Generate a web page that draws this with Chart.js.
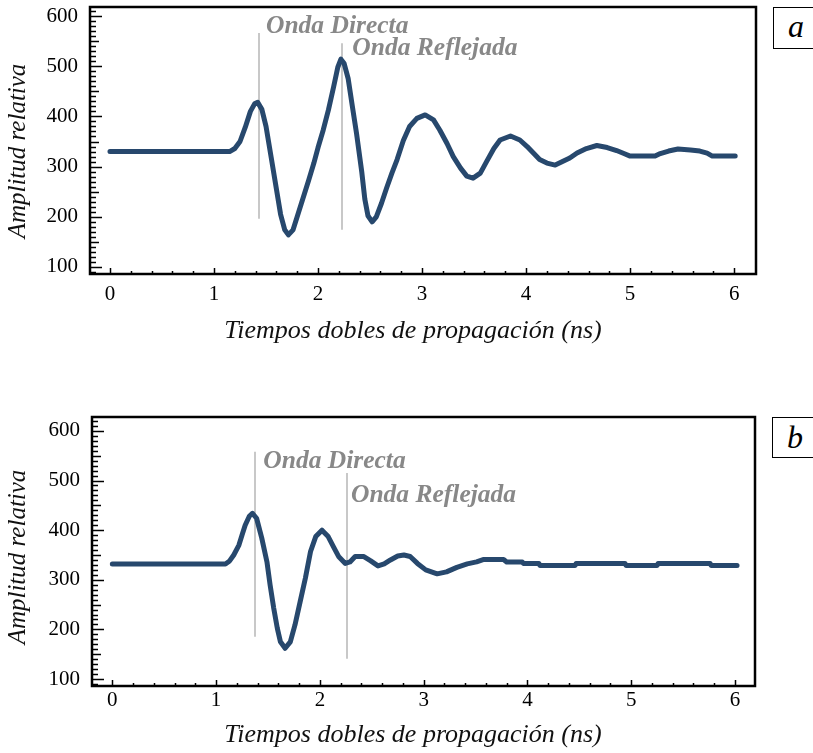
<!DOCTYPE html>
<html>
<head>
<meta charset="utf-8">
<script src="https://cdn.jsdelivr.net/npm/chart.js@4.4.1/dist/chart.umd.min.js"></script>
<style>
  body { margin: 0; background: #fff; width: 813px; height: 753px; overflow: hidden; position: relative; }
  .panel { position: absolute; left: 0; width: 813px; }
  .tag { position: absolute; width: 60px; border: 1px solid #000; box-sizing: border-box; background: #fff;
         font: italic 32px 'Liberation Serif', 'Times New Roman', serif; padding-left: 14px; }
</style>
</head>
<body>
<div class="panel" style="top:0;height:376px"><canvas id="chartA"></canvas></div>
<div class="panel" style="top:376px;height:377px"><canvas id="chartB"></canvas></div>
<div class="tag" style="left:773px;top:7px;height:42px;line-height:36px">a</div>
<div class="tag" style="left:772px;top:417px;height:41px;line-height:38px">b</div>
<script>
// traza a (ns, amplitud)
const timesA = [0, 1.15, 1.20, 1.25, 1.30, 1.35, 1.39, 1.42, 1.46, 1.50, 1.55, 1.60, 1.64, 1.68, 1.715,
  1.76, 1.81, 1.86, 1.91, 1.96, 2.00, 2.05, 2.10, 2.15, 2.19, 2.22, 2.25, 2.29, 2.33, 2.37, 2.42, 2.45,
  2.48, 2.52, 2.56, 2.61, 2.66, 2.71, 2.76, 2.82, 2.88, 2.95, 3.03, 3.11, 3.17, 3.24, 3.30, 3.37, 3.43,
  3.49, 3.56, 3.62, 3.69, 3.75, 3.85, 3.94, 4.01, 4.07, 4.13, 4.20, 4.28, 4.34, 4.42, 4.49, 4.58, 4.68,
  4.78, 4.87, 4.94, 5.00, 5.24, 5.29, 5.37, 5.46, 5.58, 5.67, 5.74, 5.79, 6.01];
const ampA = [330, 330, 336, 350, 378, 410, 425, 428, 414, 380, 318, 255, 205, 174, 164,
  174, 207, 240, 273, 307, 338, 373, 413, 459, 498, 514, 506, 475, 420, 366, 290, 235,
  202, 190, 200, 227, 258, 287, 314, 352, 380, 396, 403, 393, 373, 346, 320, 297, 281,
  277, 287, 310, 336, 353, 361, 353, 340, 327, 314, 307, 303, 309, 317, 327, 336, 342,
  338, 332, 326, 321, 321, 326, 331, 335, 333, 331, 327, 321, 321];

// traza b
const timesB = [0, 1.09, 1.13, 1.17, 1.22, 1.25, 1.28, 1.32, 1.35, 1.39, 1.44, 1.49, 1.52, 1.555, 1.59,
  1.62, 1.665, 1.715, 1.76, 1.81, 1.86, 1.91, 1.96, 2.02, 2.08, 2.13, 2.18, 2.245, 2.29, 2.34, 2.42,
  2.49, 2.56, 2.62, 2.68, 2.75, 2.81, 2.87, 2.94, 3.02, 3.13, 3.22, 3.32, 3.42, 3.51, 3.58, 3.77, 3.80,
  3.95, 3.96, 4.11, 4.12, 4.46, 4.47, 4.94, 4.95, 5.25, 5.26, 5.76, 5.77, 6.02];
const ampB = [332, 332, 338, 350, 370, 390, 410, 428, 434, 424, 384, 336, 290, 243, 202,
  175, 162, 175, 209, 256, 303, 357, 387, 400, 387, 367, 347, 333, 336, 347, 347,
  338, 328, 332, 340, 348, 350, 347, 333, 320, 312, 316, 325, 332, 336, 341, 341, 336,
  336, 333, 333, 329, 329, 333, 333, 329, 329, 333, 333, 329, 329];

const xTickValues = [0, 1, 2, 3, 4, 5, 6];
const yTickValues = [100, 200, 300, 400, 500, 600];
const waveLabels = ['Onda Directa', 'Onda Reflejada'];

// lineas verticales y textos (en unidades de los ejes)
const markerTimesA = [1.43, 2.23];
const markerTopA = [566, 546];
const markerBottomA = [196, 174];
const labelTimesA = [1.50, 2.33];
const labelAmpA = [566, 522];

const markerTimesB = [1.37, 2.26];
const markerTopB = [558, 515];
const markerBottomB = [185, 141];
const labelTimesB = [1.455, 2.30];
const labelAmpB = [525, 457];

const xTitle = 'Tiempos dobles de propagación (ns)';
const yTitle = 'Amplitud relativa';

const LINE = '#27486d';
const SERIF = "'Liberation Serif', 'Times New Roman', serif";

const decoPlugin = {
  id: 'deco',
  beforeDatasetsDraw(chart, args, opts) {
    const ctx = chart.ctx, x = chart.scales.x, y = chart.scales.y;
    ctx.save();
    ctx.strokeStyle = '#c8c8c8';
    ctx.lineWidth = 2;
    opts.markerTimes.forEach((t, i) => {
      const px = Math.round(x.getPixelForValue(t));
      ctx.beginPath();
      ctx.moveTo(px, y.getPixelForValue(opts.markerTop[i]));
      ctx.lineTo(px, y.getPixelForValue(opts.markerBottom[i]));
      ctx.stroke();
    });
    ctx.restore();
  },
  afterDraw(chart, args, opts) {
    const ctx = chart.ctx, a = chart.chartArea, x = chart.scales.x, y = chart.scales.y;
    ctx.save();
    // marcas hacia dentro
    ctx.strokeStyle = '#000';
    ctx.lineWidth = 1.5;
    for (let v = 90; v <= 620; v += 10) {
      if (v < y.min || v > y.max) continue;
      const py = Math.round(y.getPixelForValue(v)) + 0.5;
      const len = v % 100 === 0 ? 12 : (v % 50 === 0 ? 9 : 6);
      ctx.beginPath(); ctx.moveTo(a.left, py); ctx.lineTo(a.left + len, py); ctx.stroke();
    }
    for (let i = 0; i <= 30; i++) {
      const v = i * 0.2;
      const px = Math.round(x.getPixelForValue(v)) + 0.5;
      const len = i % 5 === 0 ? 6 : 3;
      ctx.beginPath(); ctx.moveTo(px, a.bottom); ctx.lineTo(px, a.bottom - len); ctx.stroke();
    }
    // marco
    ctx.lineWidth = 2.5;
    ctx.strokeRect(a.left, a.top, a.right - a.left, a.bottom - a.top);

    // textos de onda
    ctx.fillStyle = '#888888';
    ctx.font = 'italic bold 25.5px ' + SERIF;
    ctx.textAlign = 'left';
    ctx.textBaseline = 'alphabetic';
    waveLabels.forEach((txt, i) => {
      ctx.fillText(txt, x.getPixelForValue(opts.labelTimes[i]), y.getPixelForValue(opts.labelAmps[i]));
    });

    // titulos de ejes
    ctx.fillStyle = '#111';
    ctx.textAlign = 'center';
    ctx.textBaseline = 'middle';
    ctx.font = 'italic 26px ' + SERIF;
    ctx.fillText(xTitle, opts.xTitleX, opts.xTitleY);
    ctx.translate(opts.yTitleX, opts.yTitleY);
    ctx.rotate(-Math.PI / 2);
    ctx.font = 'italic 25px ' + SERIF;
    ctx.fillText(yTitle, 0, 0);
    ctx.restore();
  }
};

function makeChart(id, times, amps, cfg) {
  return new Chart(document.getElementById(id), {
    type: 'line',
    data: {
      datasets: [{
        data: times.map((t, i) => ({ x: t, y: amps[i] })),
        borderColor: LINE,
        borderWidth: 5,
        borderCapStyle: 'round',
        borderJoinStyle: 'round',
        pointRadius: 0,
        tension: 0,
        fill: false
      }]
    },
    options: {
      responsive: true,
      maintainAspectRatio: false,
      animation: false,
      layout: { padding: cfg.padding },
      plugins: {
        legend: { display: false },
        tooltip: { enabled: false },
        deco: cfg.deco
      },
      scales: {
        x: {
          type: 'linear', min: cfg.xMin, max: cfg.xMax,
          grid: { display: false, drawTicks: false },
          border: { display: false },
          ticks: { font: { family: SERIF, size: 21 }, color: '#000', padding: cfg.xTickPad, maxRotation: 0 },
          afterBuildTicks: s => { s.ticks = xTickValues.map(v => ({ value: v })); },
          afterFit: s => { s.height = cfg.xHeight; s.paddingLeft = 0; s.paddingRight = 0; }
        },
        y: {
          min: cfg.yMin, max: cfg.yMax,
          grid: { display: false, drawTicks: false },
          border: { display: false },
          ticks: { font: { family: SERIF, size: 21 }, color: '#000', padding: 12 },
          afterBuildTicks: s => { s.ticks = yTickValues.map(v => ({ value: v })); },
          afterFit: s => { s.width = cfg.yWidth; s.paddingTop = 0; s.paddingBottom = 0; }
        }
      }
    },
    plugins: [decoPlugin]
  });
}

makeChart('chartA', timesA, ampA, {
  padding: { top: 7, right: 57, left: 0, bottom: 0 },
  xMin: -0.192, xMax: 6.21, yMin: 86, yMax: 618,
  xHeight: 102, yWidth: 90, xTickPad: 8,
  deco: {
    markerTimes: markerTimesA, markerTop: markerTopA, markerBottom: markerBottomA,
    labelTimes: labelTimesA, labelAmps: labelAmpA,
    xTitleX: 413, xTitleY: 331, yTitleX: 18, yTitleY: 151
  }
});

makeChart('chartB', timesB, ampB, {
  padding: { top: 41, right: 58, left: 0, bottom: 0 },
  xMin: -0.196, xMax: 6.193, yMin: 86, yMax: 628,
  xHeight: 67, yWidth: 92, xTickPad: 2,
  deco: {
    markerTimes: markerTimesB, markerTop: markerTopB, markerBottom: markerBottomB,
    labelTimes: labelTimesB, labelAmps: labelAmpB,
    xTitleX: 413, xTitleY: 359, yTitleX: 18, yTitleY: 181
  }
});
</script>
</body>
</html>
